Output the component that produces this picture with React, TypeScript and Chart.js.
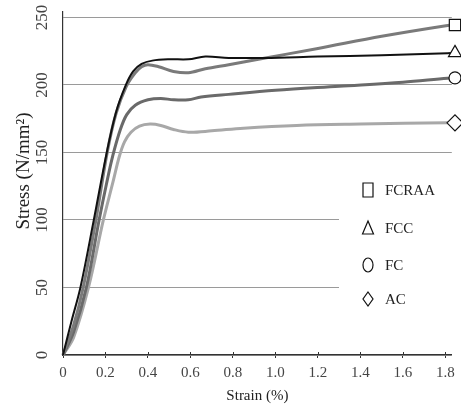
import React, { useEffect, useRef } from 'react';
import { Chart, registerables } from 'chart.js';

Chart.register(...registerables);

// ---- data ----
const fccX = [0, 0.04, 0.082, 0.145, 0.206, 0.25, 0.296, 0.33, 0.37, 0.42, 0.5, 0.59, 0.67, 0.78, 0.95, 1.2, 1.5, 1.81];
const fccY = [0, 25, 50, 100, 150, 180, 200, 210, 215.5, 218, 219, 219, 221, 220, 220, 221, 222, 223.5];

const fcraaX = [0, 0.05, 0.095, 0.155, 0.208, 0.25, 0.298, 0.34, 0.37, 0.4, 0.45, 0.52, 0.59, 0.67, 0.78, 0.92, 1.2, 1.5, 1.81];
const fcraaY = [0, 22, 50, 100, 150, 179, 199, 209, 213.5, 215, 213.5, 210, 209, 212, 215, 219, 227, 236, 244];

const fcX = [0, 0.05, 0.11, 0.17, 0.205, 0.235, 0.27, 0.3, 0.34, 0.4, 0.46, 0.52, 0.59, 0.65, 0.78, 1.0, 1.3, 1.6, 1.81];
const fcY = [0, 17, 50, 100, 127, 148, 167, 178, 185, 189, 190, 189, 189, 191, 193, 196, 199, 202, 205];

const acX = [0, 0.05, 0.12, 0.19, 0.235, 0.265, 0.29, 0.32, 0.36, 0.41, 0.46, 0.52, 0.59, 0.7, 0.85, 1.1, 1.4, 1.81];
const acY = [0, 13, 50, 100, 128, 147, 158, 165, 169.5, 171, 170, 167, 165, 166, 168, 170, 171, 172];

const endMarkerX = 1.845;
const endMarkerY = { FCC: 223.7, FCRAA: 244.4, FC: 205.2, AC: 171.9 };

const legendLabels = ['FCRAA', 'FCC', 'FC', 'AC'];
const legendShapes = ['square', 'triangle', 'circle', 'diamond'];

const xMin = 0;
const xMax = 1.83;
const xStep = 0.2;
const yMin = 0;
const yMax = 254;
const yStep = 50;

const xTitle = 'Strain (%)';
const yTitle = 'Stress (N/mm\u00B2)';

const SERIF = '"Liberation Serif", "Times New Roman", serif';

function pts(xs: number[], ys: number[], ex: number, ey: number) {
  const p = xs.map((x, i) => ({ x, y: ys[i] }));
  p.push({ x: ex, y: ey });
  return p;
}

function radii(n: number, r: number) {
  const a = new Array(n + 1).fill(0);
  a[n] = r;
  return a;
}

const overlayPlugin = {
  id: 'overlay',
  beforeDatasetsDraw(chart: any) {
    const { ctx } = chart;
    ctx.save();
    ctx.fillStyle = '#ffffff';
    ctx.fillRect(339, 165, 117, 165);
    ctx.restore();
  },
  afterDraw(chart: any) {
    const { ctx } = chart;
    const yScale = chart.scales.y;
    const xScale = chart.scales.x;
    ctx.save();
    // small tick marks crossing the x axis (above part)
    ctx.strokeStyle = '#333';
    ctx.lineWidth = 1;
    for (const t of xScale.ticks) {
      if (t.value === 0) continue;
      const px = Math.round(xScale.getPixelForValue(t.value)) + 0.5;
      ctx.beginPath();
      ctx.moveTo(px, yScale.bottom - 3);
      ctx.lineTo(px, yScale.bottom);
      ctx.stroke();
    }
    // y tick labels, rotated
    ctx.font = `17px ${SERIF}`;
    ctx.fillStyle = '#444';
    ctx.textAlign = 'center';
    ctx.textBaseline = 'middle';
    for (const t of yScale.ticks) {
      const py = yScale.getPixelForValue(t.value);
      ctx.save();
      ctx.translate(43, py);
      ctx.rotate(-Math.PI / 2);
      ctx.fillText(String(t.value), 0, 0);
      ctx.restore();
    }
    // y title
    ctx.font = `19px ${SERIF}`;
    ctx.fillStyle = '#222';
    ctx.save();
    ctx.translate(24, 171);
    ctx.rotate(-Math.PI / 2);
    ctx.fillText(yTitle, 0, 0);
    ctx.restore();

    // legend
    const rows = [190, 228, 265, 299];
    ctx.strokeStyle = '#111';
    ctx.lineWidth = 1.2;
    ctx.font = `15px ${SERIF}`;
    ctx.fillStyle = '#222';
    ctx.textAlign = 'left';
    legendLabels.forEach((lab, i) => {
      const cx = 368;
      const cy = rows[i];
      ctx.beginPath();
      const s = legendShapes[i];
      if (s === 'square') {
        ctx.rect(cx - 5, cy - 7, 10, 14);
      } else if (s === 'triangle') {
        ctx.moveTo(cx, cy - 7);
        ctx.lineTo(cx + 5.5, cy + 6);
        ctx.lineTo(cx - 5.5, cy + 6);
        ctx.closePath();
      } else if (s === 'circle') {
        ctx.ellipse(cx, cy, 5, 7, 0, 0, Math.PI * 2);
      } else {
        ctx.moveTo(cx, cy - 7);
        ctx.lineTo(cx + 5, cy);
        ctx.lineTo(cx, cy + 7);
        ctx.lineTo(cx - 5, cy);
        ctx.closePath();
      }
      ctx.stroke();
      ctx.fillText(lab, 385, cy + 1);
    });
    ctx.restore();
  },
};

export default function App() {
  const ref = useRef<HTMLCanvasElement | null>(null);

  useEffect(() => {
    if (!ref.current) return;
    const common = {
      fill: false,
      tension: 0.35,
      pointBackgroundColor: '#ffffff',
      pointBorderColor: '#111',
      pointBorderWidth: 1.2,
      clip: false as any,
    };
    const chart = new Chart(ref.current, {
      type: 'line',
      data: {
        datasets: [
          {
            ...common,
            label: 'FCC',
            data: pts(fccX, fccY, endMarkerX, endMarkerY.FCC),
            borderColor: '#111111',
            borderWidth: 2,
            pointStyle: 'triangle',
            pointRadius: radii(fccX.length, 7.5),
          },
          {
            ...common,
            label: 'FCRAA',
            data: pts(fcraaX, fcraaY, endMarkerX, endMarkerY.FCRAA),
            borderColor: '#7a7a7a',
            borderWidth: 3,
            pointStyle: 'rect',
            pointRadius: radii(fcraaX.length, 8),
          },
          {
            ...common,
            label: 'FC',
            data: pts(fcX, fcY, endMarkerX, endMarkerY.FC),
            borderColor: '#6a6a6a',
            borderWidth: 3,
            pointStyle: 'circle',
            pointRadius: radii(fcX.length, 6),
          },
          {
            ...common,
            label: 'AC',
            data: pts(acX, acY, endMarkerX, endMarkerY.AC),
            borderColor: '#a8a8a8',
            borderWidth: 3,
            pointStyle: 'rectRot',
            pointRadius: radii(acX.length, 8),
          },
        ],
      },
      options: {
        responsive: false,
        animation: false,
        devicePixelRatio: 1,
        layout: { padding: { top: 12, right: 6, left: 0, bottom: 0 } },
        plugins: {
          legend: { display: false },
          tooltip: { enabled: false },
        },
        scales: {
          x: {
            type: 'linear',
            min: xMin,
            max: xMax,
            afterFit: (s: any) => {
              s.height = 58;
              s.paddingLeft = 0;
              s.paddingRight = 0;
            },
            ticks: {
              stepSize: xStep,
              includeBounds: false,
              autoSkip: false,
              maxRotation: 0,
              padding: 6,
              color: '#444',
              font: { family: SERIF, size: 15 },
              callback: (v: any) => (Number(v) === 0 ? '0' : Number(v).toFixed(1)),
            },
            grid: {
              drawOnChartArea: false,
              drawTicks: true,
              tickLength: 3,
              color: '#333',
            },
            border: { display: true, color: '#333', width: 1.2 },
            title: {
              display: true,
              text: xTitle,
              color: '#222',
              font: { family: SERIF, size: 15 },
              padding: { top: 0, bottom: 8 },
            },
          },
          y: {
            type: 'linear',
            min: yMin,
            max: yMax,
            afterFit: (s: any) => {
              s.width = 63;
              s.paddingTop = 0;
              s.paddingBottom = 0;
            },
            ticks: {
              stepSize: yStep,
              includeBounds: false,
              display: false,
            },
            grid: {
              drawTicks: false,
              color: '#9a9a9a',
              lineWidth: 1,
            },
            border: { display: true, color: '#333', width: 1.2 },
          },
        },
      },
      plugins: [overlayPlugin],
    });
    return () => chart.destroy();
  }, []);

  return (
    <div style={{ position: 'absolute', left: 0, top: 0, width: 461, height: 413, background: '#fff' }}>
      <canvas ref={ref} width={461} height={413} style={{ display: 'block' }} />
    </div>
  );
}
